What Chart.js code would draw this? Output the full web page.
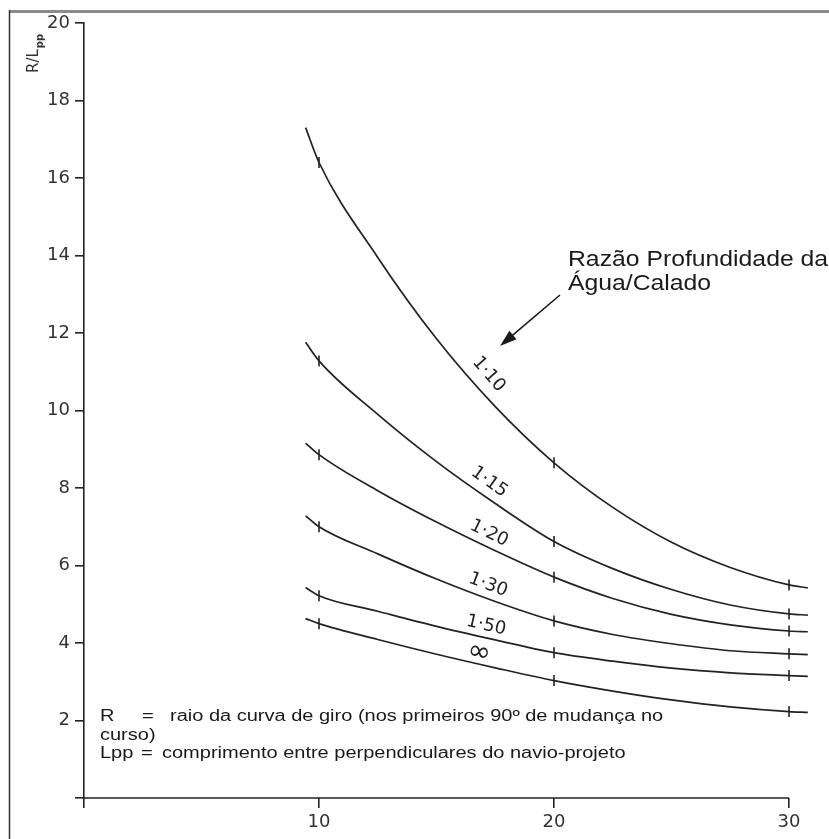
<!DOCTYPE html>
<html><head><meta charset="utf-8">
<script src="https://cdn.jsdelivr.net/npm/chart.js@4/dist/chart.umd.min.js"></script>
<style>html,body{margin:0;padding:0;background:#fff;}#wrap{width:829px;height:839px;position:relative;}</style>
</head><body><div id="wrap"><canvas id="c" width="829" height="839"></canvas></div>
<script>
// ---- data ----
const xValues  = [9.43, 10, 12.5, 15, 17.5, 20, 22.5, 25, 27.5, 30, 30.8];
const ratio110 = [17.3, 16.4, 13.95, 11.85, 10.1, 8.65, 7.5, 6.6, 5.95, 5.5, 5.42];
const ratio115 = [11.76, 11.28, 9.9, 8.68, 7.6, 6.62, 5.92, 5.38, 4.98, 4.75, 4.72];
const ratio120 = [9.16, 8.86, 7.93, 7.12, 6.38, 5.7, 5.15, 4.74, 4.47, 4.31, 4.29];
const ratio130 = [7.28, 7.0, 6.3, 5.65, 5.07, 4.57, 4.22, 3.98, 3.8, 3.72, 3.7];
const ratio150 = [5.43, 5.22, 4.82, 4.43, 4.08, 3.75, 3.53, 3.35, 3.23, 3.16, 3.14];
const ratioInf = [4.63, 4.5, 4.09, 3.71, 3.36, 3.03, 2.76, 2.53, 2.35, 2.23, 2.21];
const seriesNames = ['1·10', '1·15', '1·20', '1·30', '1·50', '∞'];
const markedX = [10, 20, 30];
const xTickValues = [0, 10, 20, 30];
const yTickValues = [0, 2, 4, 6, 8, 10, 12, 14, 16, 18, 20];
const axisTitle = 'R/L';
const axisTitleSub = 'pp';
const calloutLines = ['Razão Profundidade da', 'Água/Calado'];
const noteLine1 = ['R', '=', 'raio da curva de giro (nos primeiros 90º de mudança no'];
const noteLine2 = ['curso)'];
const noteLine3 = ['Lpp', '=', 'comprimento entre perpendiculares do navio-projeto'];

const allSeries = [ratio110, ratio115, ratio120, ratio130, ratio150, ratioInf];
const INK = '#222';

function toPoints(arr){ return xValues.map((x,i)=>({x:x, y:arr[i]})); }
function interp(data, v){
  for(let i=0;i<data.length-1;i++){
    if(v>=data[i].x && v<=data[i+1].x){
      const t=(v-data[i].x)/(data[i+1].x-data[i].x);
      return data[i].y + t*(data[i+1].y-data[i].y);
    }
  }
  return data[data.length-1].y;
}

const labelCfg = [
  {x:16.7, d:16, font:'18px "DejaVu Sans"'},
  {x:16.9, d:14, font:'18px "DejaVu Sans"'},
  {x:17.0, d:13, font:'18px "DejaVu Sans"'},
  {x:17.0, d:13, font:'18px "DejaVu Sans"'},
  {x:17.0, d:12, font:'18px "DejaVu Sans"'},
  {x:16.7, d:11, font:'28px "DejaVu Sans"'}
];

const decorPlugin = {
  id:'decor',
  beforeDraw(chart){
    const ctx = chart.ctx;
    ctx.save();
    ctx.fillStyle='#fff'; ctx.fillRect(0,0,chart.width,chart.height);
    ctx.restore();
  },
  afterDraw(chart){
    const {ctx, scales:{x, y}} = chart;
    ctx.save();
    // frame
    ctx.strokeStyle='#8a8a8a'; ctx.lineWidth=3;
    ctx.beginPath(); ctx.moveTo(9,11.5); ctx.lineTo(829,11.5); ctx.stroke();
    ctx.strokeStyle='#333'; ctx.lineWidth=1.5;
    ctx.beginPath(); ctx.moveTo(9.5,10); ctx.lineTo(9.5,839); ctx.stroke();

    // x axis line, ending at the last tick value
    const yb = y.getPixelForValue(0);
    ctx.strokeStyle=INK; ctx.lineWidth=1.6;
    ctx.beginPath();
    ctx.moveTo(x.getPixelForValue(xTickValues[0]), yb);
    ctx.lineTo(x.getPixelForValue(xTickValues[xTickValues.length-1]), yb);
    ctx.stroke();

    // curve labels
    ctx.fillStyle=INK;
    chart.data.datasets.forEach((ds,i)=>{
      const c = labelCfg[i];
      const ax = x.getPixelForValue(c.x-0.6), ay = y.getPixelForValue(interp(ds.data, c.x-0.6));
      const bx = x.getPixelForValue(c.x+0.6), by = y.getPixelForValue(interp(ds.data, c.x+0.6));
      const ang = Math.atan2(by-ay, bx-ax);
      const px = x.getPixelForValue(c.x), py = y.getPixelForValue(interp(ds.data, c.x));
      const cx = px + c.d*Math.sin(ang), cy = py - c.d*Math.cos(ang);
      ctx.save(); ctx.translate(cx, cy); ctx.rotate(ang);
      ctx.font = c.font; ctx.textAlign='center'; ctx.textBaseline='middle';
      ctx.fillText(ds.label, 0, 0);
      ctx.restore();
    });

    // axis title R/Lpp (rotated)
    ctx.save();
    ctx.translate(38, 73); ctx.rotate(-Math.PI/2);
    ctx.font='15px "DejaVu Sans"'; ctx.fillStyle='#333'; ctx.textBaseline='alphabetic'; ctx.textAlign='left';
    ctx.fillText(axisTitle, 0, 0);
    const w = ctx.measureText(axisTitle).width;
    ctx.font='bold 10px "DejaVu Sans"';
    ctx.fillText(axisTitleSub, w+1, 5);
    ctx.restore();

    function stretched(t, tx, ty, font, sx){
      ctx.save(); ctx.translate(tx, ty); ctx.scale(sx, 1);
      ctx.font = font; ctx.textAlign='left'; ctx.textBaseline='alphabetic';
      ctx.fillText(t, 0, 0); ctx.restore();
    }
    // callout text
    ctx.fillStyle='#1a1a1a';
    stretched(calloutLines[0], 568, 266, '22px "Liberation Sans"', 1.125);
    stretched(calloutLines[1], 568, 290, '22px "Liberation Sans"', 1.125);

    // arrow
    const tipX=500, tipY=346, tailX=560, tailY=295;
    const a = Math.atan2(tipY-tailY, tipX-tailX);
    ctx.strokeStyle='#1a1a1a'; ctx.lineWidth=1.6;
    ctx.beginPath(); ctx.moveTo(tailX, tailY); ctx.lineTo(tipX - 14*Math.cos(a), tipY - 14*Math.sin(a)); ctx.stroke();
    ctx.beginPath();
    ctx.moveTo(tipX, tipY);
    ctx.lineTo(tipX - 17*Math.cos(a) + 5.5*Math.sin(a), tipY - 17*Math.sin(a) - 5.5*Math.cos(a));
    ctx.lineTo(tipX - 17*Math.cos(a) - 5.5*Math.sin(a), tipY - 17*Math.sin(a) + 5.5*Math.cos(a));
    ctx.closePath(); ctx.fillStyle='#1a1a1a'; ctx.fill();

    // note text
    const nf = '16px "Liberation Sans"', ns = 1.25;
    stretched(noteLine1[0], 100, 721, nf, ns);
    stretched(noteLine1[1], 142, 721, nf, ns);
    stretched(noteLine1[2], 170, 721, nf, ns);
    stretched(noteLine2[0], 100, 740, nf, ns);
    stretched(noteLine3[0], 100, 758, nf, ns);
    stretched(noteLine3[1], 141, 758, nf, ns);
    stretched(noteLine3[2], 162, 758, nf, ns);
    ctx.restore();
  }
};

const datasets = allSeries.map((arr,i)=>({
  label: seriesNames[i],
  data: toPoints(arr),
  borderColor: INK,
  borderWidth: 1.7,
  cubicInterpolationMode: 'monotone',
  fill: false,
  clip: false,
  pointStyle: 'line',
  rotation: 90,
  pointRadius: ctx => (ctx.raw && markedX.includes(ctx.raw.x)) ? 5.5 : 0,
  pointBorderColor: INK,
  pointBorderWidth: 1.6,
  pointHoverRadius: 0
}));

new Chart(document.getElementById('c'), {
  type: 'line',
  data: { datasets },
  plugins: [decorPlugin],
  options: {
    responsive: false,
    animation: false,
    events: [],
    layout: { padding: { top: 23, right: 20, left: 0, bottom: 0 } },
    plugins: { legend: { display: false }, tooltip: { enabled: false } },
    scales: {
      x: {
        type: 'linear', min: 0, max: 30.85,
        afterBuildTicks: s => { s.ticks = xTickValues.map(v=>({value:v})); },
        afterFit: s => { s.height = 41; },
        border: { display: false },
        grid: { display: true, drawOnChartArea: false, drawTicks: true, tickLength: 10, color: INK, lineWidth: 1.6 },
        ticks: { callback: v => v === 0 ? '' : String(v), color: '#333', font: { family: 'DejaVu Sans', size: 18 }, padding: 4, maxRotation: 0, autoSkip: false }
      },
      y: {
        type: 'linear', min: 0, max: 20,
        afterBuildTicks: s => { s.ticks = yTickValues.map(v=>({value:v})); },
        afterFit: s => { s.width = 84; },
        border: { display: true, color: INK, width: 1.6 },
        grid: { display: true, drawOnChartArea: false, drawTicks: true, tickLength: 9, color: INK, lineWidth: 1.6 },
        ticks: { callback: v => v === 0 ? '' : String(v), color: '#333', font: { family: 'DejaVu Sans', size: 18 }, padding: 5, autoSkip: false }
      }
    }
  }
});
</script></body></html>
